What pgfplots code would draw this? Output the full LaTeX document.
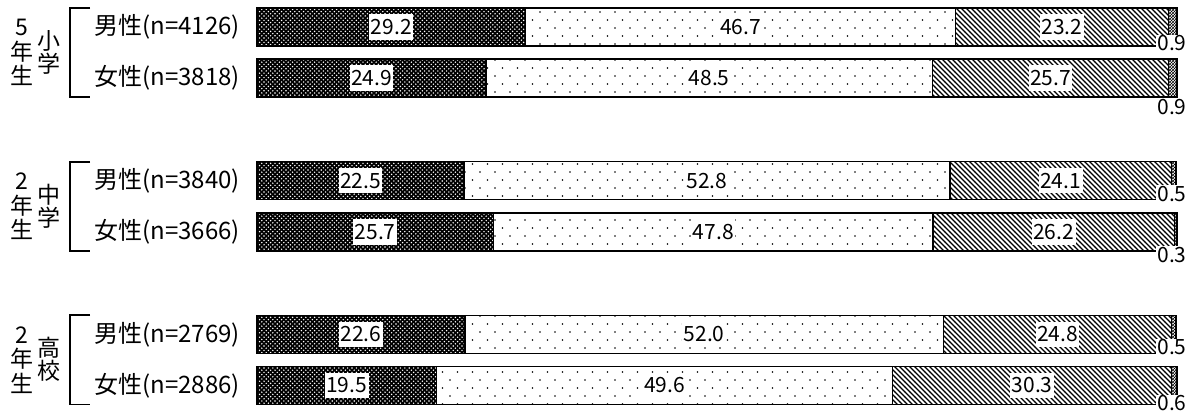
\documentclass[border=0pt]{standalone}
\usepackage{pgfplots}
\pgfplotsset{compat=1.18}
\usepackage{fontspec}
\setmainfont{Noto Sans CJK JP}
\usetikzlibrary{patterns}
\pgfdeclarepatternformonly{densedots}{\pgfqpoint{-1pt}{-1pt}}{\pgfqpoint{4pt}{4pt}}{\pgfqpoint{4.4pt}{4.4pt}}{%
  \pgfpathcircle{\pgfqpoint{0pt}{0pt}}{0.8pt}%
  \pgfpathcircle{\pgfqpoint{2.2pt}{2.2pt}}{0.8pt}%
  \pgfusepath{fill}}
\pgfdeclarepatternformonly{sparsedots}{\pgfqpoint{-1pt}{-1pt}}{\pgfqpoint{9pt}{9pt}}{\pgfqpoint{15pt}{16pt}}{%
  \pgfpathcircle{\pgfqpoint{0pt}{0pt}}{0.85pt}%
  \pgfpathcircle{\pgfqpoint{7.5pt}{8pt}}{0.85pt}%
  \pgfusepath{fill}}
\pgfdeclarepatternformonly{diaglines}{\pgfqpoint{-1pt}{-1pt}}{\pgfqpoint{6pt}{6pt}}{\pgfqpoint{5pt}{5pt}}{%
  \pgfsetlinewidth{1.3pt}%
  \pgfpathmoveto{\pgfqpoint{-0.1pt}{5.1pt}}%
  \pgfpathlineto{\pgfqpoint{5.1pt}{-0.1pt}}%
  \pgfusepath{stroke}}
\tikzset{
  numlab/.style={fill=white, inner xsep=1.5pt, inner ysep=5pt, font=\fontsize{21pt}{21pt}\selectfont},
  smlab/.style={fill=white, inner sep=1pt, font=\fontsize{21pt}{21pt}\selectfont},
  grp/.style={inner sep=0pt, font=\fontsize{23pt}{23pt}\selectfont}}
\begin{document}
\begin{tikzpicture}
\useasboundingbox (0,0) rectangle (1191pt,412pt);
\begin{axis}[at={(257pt,0.9pt)}, anchor=south west, scale only axis,
  width=920pt, height=409.7pt,
  xmin=0, xmax=100, ymin=-0.5, ymax=7.5, y dir=reverse,
  xbar stacked, bar width=38pt,
  axis line style={draw=none}, tick style={draw=none}, xtick=\empty,
  ytick={0,1,3,4,6,7},
  yticklabels={男性(n=4126),女性(n=3818),男性(n=3840),女性(n=3666),男性(n=2769),女性(n=2886)},
  yticklabel style={font=\fontsize{24pt}{24pt}\selectfont, anchor=east, inner sep=0pt, xshift=-17pt},
  clip=false]
\addplot[draw=black, line width=1.5pt, fill=black, postaction={pattern=densedots, pattern color=white}]
  coordinates {(29.2,0) (24.9,1) (22.5,3) (25.7,4) (22.6,6) (19.5,7)};
\addplot[draw=black, line width=1.5pt, pattern=sparsedots, pattern color=black]
  coordinates {(46.7,0) (48.5,1) (52.8,3) (47.8,4) (52.0,6) (49.6,7)};
\addplot[draw=black, line width=1.5pt, pattern=diaglines, pattern color=black]
  coordinates {(23.2,0) (25.7,1) (24.1,3) (26.2,4) (24.8,6) (30.3,7)};
\addplot[draw=black, line width=1.5pt, pattern=crosshatch, pattern color=black]
  coordinates {(0.9,0) (0.9,1) (0.5,3) (0.3,4) (0.5,6) (0.6,7)};
% label anchors (segment centres)
\coordinate (a0) at (axis cs:14.6,0);
\coordinate (b0) at (axis cs:52.55,0);
\coordinate (c0) at (axis cs:87.5,0);
\coordinate (a1) at (axis cs:12.45,1);
\coordinate (b1) at (axis cs:49.15,1);
\coordinate (c1) at (axis cs:86.25,1);
\coordinate (a3) at (axis cs:11.25,3);
\coordinate (b3) at (axis cs:48.9,3);
\coordinate (c3) at (axis cs:87.35,3);
\coordinate (a4) at (axis cs:12.85,4);
\coordinate (b4) at (axis cs:49.6,4);
\coordinate (c4) at (axis cs:86.6,4);
\coordinate (a6) at (axis cs:11.3,6);
\coordinate (b6) at (axis cs:48.6,6);
\coordinate (c6) at (axis cs:87.0,6);
\coordinate (a7) at (axis cs:9.75,7);
\coordinate (b7) at (axis cs:44.3,7);
\coordinate (c7) at (axis cs:84.25,7);
\coordinate (d0) at (axis cs:99.46,0);
\coordinate (d1) at (axis cs:99.46,1);
\coordinate (d3) at (axis cs:99.46,3);
\coordinate (d4) at (axis cs:99.46,4);
\coordinate (d6) at (axis cs:99.46,6);
\coordinate (d7) at (axis cs:99.46,7);
% group labels
\node[grp, yshift=25pt] at (axis cs:-25.54,0.5) {5};
\node[grp, yshift=1pt] at (axis cs:-25.54,0.5) {年};
\node[grp, yshift=-23pt] at (axis cs:-25.54,0.5) {生};
\node[grp, yshift=12pt] at (axis cs:-22.6,0.5) {小};
\node[grp, yshift=-11pt] at (axis cs:-22.6,0.5) {学};
\node[grp, yshift=25pt] at (axis cs:-25.54,3.5) {2};
\node[grp, yshift=1pt] at (axis cs:-25.54,3.5) {年};
\node[grp, yshift=-23pt] at (axis cs:-25.54,3.5) {生};
\node[grp, yshift=12pt] at (axis cs:-22.6,3.5) {中};
\node[grp, yshift=-11pt] at (axis cs:-22.6,3.5) {学};
\node[grp, yshift=25pt] at (axis cs:-25.54,6.5) {2};
\node[grp, yshift=1pt] at (axis cs:-25.54,6.5) {年};
\node[grp, yshift=-23pt] at (axis cs:-25.54,6.5) {生};
\node[grp, yshift=12pt] at (axis cs:-22.6,6.5) {高};
\node[grp, yshift=-11pt] at (axis cs:-22.6,6.5) {校};
\draw[line width=1.8pt] (axis cs:-18.15,-0.37) -- (axis cs:-20.33,-0.37) -- (axis cs:-20.33,1.37) -- (axis cs:-18.15,1.37);
\draw[line width=1.8pt] (axis cs:-18.15,2.63) -- (axis cs:-20.33,2.63) -- (axis cs:-20.33,4.37) -- (axis cs:-18.15,4.37);
\draw[line width=1.8pt] (axis cs:-18.15,5.63) -- (axis cs:-20.33,5.63) -- (axis cs:-20.33,7.37) -- (axis cs:-18.15,7.37);
\end{axis}
% value labels on top of the bars
\node[numlab] at (a0) {29.2};
\node[numlab] at (b0) {46.7};
\node[numlab] at (c0) {23.2};
\node[numlab] at (a1) {24.9};
\node[numlab] at (b1) {48.5};
\node[numlab] at (c1) {25.7};
\node[numlab] at (a3) {22.5};
\node[numlab] at (b3) {52.8};
\node[numlab] at (c3) {24.1};
\node[numlab] at (a4) {25.7};
\node[numlab] at (b4) {47.8};
\node[numlab] at (c4) {26.2};
\node[numlab] at (a6) {22.6};
\node[numlab] at (b6) {52.0};
\node[numlab] at (c6) {24.8};
\node[numlab] at (a7) {19.5};
\node[numlab] at (b7) {49.6};
\node[numlab] at (c7) {30.3};
\node[smlab, yshift=-16.5pt] at (d0) {0.9};
\node[smlab, yshift=-28.5pt] at (d1) {0.9};
\node[smlab, yshift=-13.5pt] at (d3) {0.5};
\node[smlab, yshift=-23pt] at (d4) {0.3};
\node[smlab, yshift=-13pt] at (d6) {0.5};
\node[smlab, yshift=-18pt] at (d7) {0.6};
\end{tikzpicture}
\end{document}
